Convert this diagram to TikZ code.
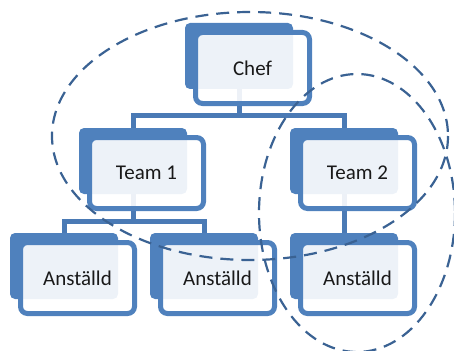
\documentclass[tikz,border=0pt]{standalone}
\usepackage{fontspec}
\setmainfont{Carlito}
\usetikzlibrary{calc,backgrounds}
\definecolor{boxblue}{HTML}{4F81BD}
\definecolor{linkblue}{HTML}{4A7AB5}
\definecolor{ringblue}{HTML}{3A6293}
\tikzset{
  backbox/.style={fill=boxblue,rounded corners=5pt,minimum width=108pt,minimum height=66pt,inner sep=0pt},
  frontbox/.style={draw=boxblue,line width=5pt,fill=white,fill opacity=.9,text opacity=1,rounded corners=7pt,
    minimum width=114pt,minimum height=71pt,inner sep=0pt,font=\fontsize{21}{25}\selectfont,text=black!90},
  link/.style={linkblue,line width=5pt},
  ring/.style={ringblue,line width=2.2pt,dash pattern=on 13pt off 8pt},
}
\begin{document}
\begin{tikzpicture}[x=1pt,y=-1pt]
        \useasboundingbox (0,0) rectangle (454,350);
        \clip (0,0) rectangle (454,350);
        % back plates
        \node[backbox] (chef) at (239,56) {};
        \node[backbox] (team1) at (133,161) {};
        \node[backbox] (team2) at (344,161) {};
        \node[backbox] (staff1) at (64,266) {};
        \node[backbox] (staff2) at (204,266) {};
        \node[backbox] (staff3) at (344,266) {};
        % front plates with text
        \node[frontbox] (chefF) at ($(chef)+(13.5,12)$) {Chef};
        \node[frontbox] (team1F) at ($(team1)+(13.5,12)$) {Team 1};
        \node[frontbox] (team2F) at ($(team2)+(13.5,12)$) {Team 2};
        \node[frontbox] (staff1F) at ($(staff1)+(13.5,12)$) {Anställd};
        \node[frontbox] (staff2F) at ($(staff2)+(13.5,12)$) {Anställd};
        \node[frontbox] (staff3F) at ($(staff3)+(13.5,12)$) {Anställd};
        % connectors
        \coordinate (bar1) at (0,115);
        \coordinate (bar2) at (0,221);
        \begin{scope}[on background layer]
            \draw[link] (chef.center) -- (chef |- bar1) -| (team1.center);
            \draw[link] (chef |- bar1) -| (team2.center);
            \draw[link] (team1.center) -- (team1 |- bar2) -| (staff1.center);
            \draw[link] (team1 |- bar2) -| (staff2.center);
            \draw[link] (team2.center) -- (staff3.center);
        \end{scope}
        % dashed groups
        \draw[ring] (250,136) ellipse [x radius=198, y radius=124];
        \draw[ring] (357,213) ellipse [x radius=98, y radius=139];
    \end{tikzpicture}
\end{document}
